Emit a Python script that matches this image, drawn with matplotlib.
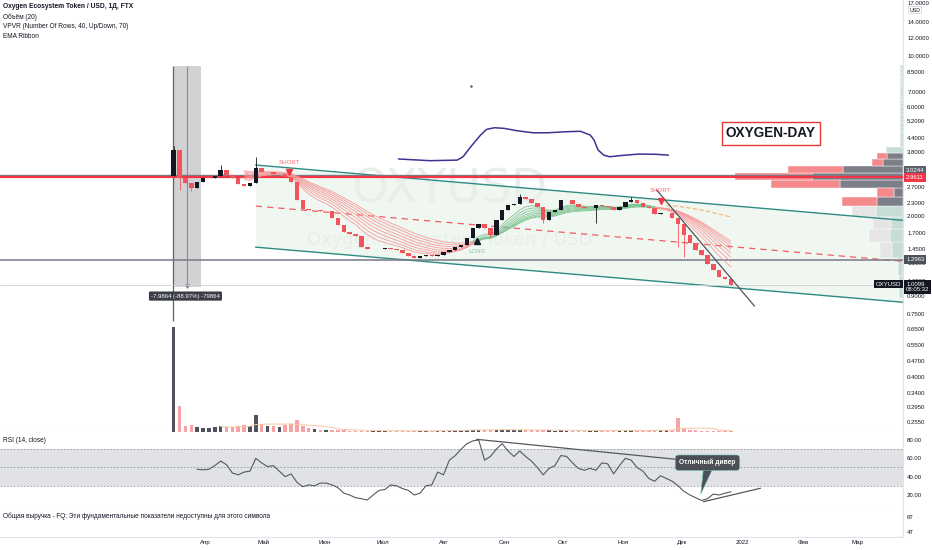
import numpy as np
import pandas as pd
import matplotlib
matplotlib.use("Agg")
import matplotlib.pyplot as plt
import matplotlib.dates as mdates
from matplotlib.collections import LineCollection
from matplotlib.patches import Polygon
from matplotlib.transforms import blended_transform_factory
from matplotlib.ticker import NullLocator, NullFormatter

plt.rcParams['font.family'] = ['Liberation Sans Narrow', 'Liberation Sans', 'DejaVu Sans']

# ---------------- data ----------------
first_day = "2021-03-16"          # candles are 3-day steps from here
first_open = 3.00
closes = [
    3.90, 2.95, 2.79, 2.66, 2.82, 2.94, 2.94, 3.00, 3.19, 3.03,
    2.94, 2.77, 2.71, 2.80, 3.25, 3.12, 3.12, 3.06, 3.06, 2.97,
    2.82, 2.36, 2.16, 2.13, 2.13, 2.11, 2.11, 1.97, 1.84, 1.71,
    1.68, 1.64, 1.47, 1.44, 1.44, 1.45, 1.46, 1.44, 1.43, 1.38,
    1.34, 1.32, 1.34, 1.36, 1.34, 1.36, 1.40, 1.43, 1.47, 1.50,
    1.61, 1.78, 1.86, 1.78, 1.66, 1.93, 2.13, 2.24, 2.27, 2.44,
    2.39, 2.29, 2.20, 1.93, 2.09, 2.13, 2.36, 2.36, 2.27, 2.20,
    2.18, 2.18, 2.24, 2.22, 2.20, 2.13, 2.20, 2.31, 2.36, 2.29,
    2.20, 2.18, 2.05, 2.07, 2.07, 1.97, 1.86, 1.66, 1.53, 1.43,
    1.36, 1.24, 1.17, 1.09, 1.07, 1.01,
]
wick_high = {0: 4.05, 8: 3.35, 14: 3.64, 21: 2.75, 59: 2.50, 78: 2.42}
wick_low = {1: 2.60, 3: 2.58, 54: 1.62, 63: 1.88, 72: 1.87, 86: 1.47, 87: 1.33}
volumes = [
    105, 26, 6, 7, 5, 4, 4, 5, 6, 5,
    5, 6, 7, 6, 17, 8, 6, 6, 5, 7,
    8, 12, 6, 4, 3, 2.5, 2.5, 2, 2, 2,
    1.5, 1.5, 1.5, 1.2, 1.2, 1.2, 1.2, 1.2, 1.2, 1.2,
    1.2, 1.2, 1.2, 1.2, 1.2, 1.5, 1.5, 1.5, 1.8, 2,
    2.2, 2.5, 2.5, 2, 2, 2.5, 2.5, 2, 2, 2,
    2, 1.8, 1.8, 2, 1.8, 1.5, 1.8, 1.5, 1.5, 1.5,
    1.5, 1.5, 1.5, 1.5, 1.5, 1.5, 1.5, 1.8, 1.8, 1.5,
    1.5, 1.5, 1.8, 1.8, 2, 2, 14, 3, 2, 2,
    1.5, 1.5, 1.5, 1.5, 1.2, 1.2,
]
rsi_values = [np.nan] * 4 + [
    48, 47.5, 48, 52, 57, 53,
    44, 42, 45, 46, 60, 55, 51, 52, 46, 40,
    43, 34, 29, 31, 30, 33, 33, 31, 28, 22,
    20, 17, 16, 14.5, 20, 25, 26, 31, 30, 27,
    25, 20, 22, 30, 31, 45, 42, 58, 63, 70,
    76, 79, 80, 58, 62, 70, 76, 68, 62, 68,
    62, 57, 50, 42, 49, 52, 63, 62, 55, 49,
    47, 49, 47, 55, 54, 43, 52, 60, 58, 50,
    46, 38, 35, 41, 38, 35, 30, 24, 20, 17,
    14, 16, 21, 20, 22, 23.5,
]

# VPVR: 40 rows, up / down volume per row
vp_low, vp_high = 0.88, 9.78
vp_up = [4, 5, 11, 13, 12, 27, 26, 9, 63, 91, 60, 20, 16, 17] + [3] * 23 + [0] * 3
vp_down = [0, 0, 12, 21, 18, 24, 35, 17, 69, 77, 55, 11, 10, 0] + [0] * 26
va_rows = range(6, 13)

# horizontal levels and channel
level_grey = [3.0244, 1.2963]
level_poc = 2.9611
last_price = 1.0099
channel_dates = ["2021-04-27", "2022-03-24"]
channel_upper = [3.35, 1.924]
channel_lower = [1.47, 0.846]
trend_dates = ["2021-11-18", "2022-01-07"]
trend_prices = [2.61, 0.815]

blue_dates = ["2021-07-09", "2021-07-25", "2021-08-08", "2021-08-11", "2021-08-15",
              "2021-08-20", "2021-08-23", "2021-08-27", "2021-09-01", "2021-09-08",
              "2021-09-16", "2021-09-23", "2021-10-03", "2021-10-10", "2021-10-12",
              "2021-10-15", "2021-10-17", "2021-10-19", "2021-10-22", "2021-10-25",
              "2021-10-30", "2021-11-09", "2021-11-18", "2021-11-24"]
blue_prices = [3.56, 3.50, 3.52, 3.64, 4.03, 4.53, 4.79, 4.87, 4.84, 4.72,
               4.63, 4.63, 4.68, 4.70, 4.63, 4.53, 4.31, 3.90, 3.70, 3.64,
               3.68, 3.74, 3.73, 3.70]

rsi_top_dates = ["2021-08-18", "2021-11-28"]
rsi_top_vals = [80.7, 58.9]
rsi_bot_dates = ["2021-12-12", "2022-01-10"]
rsi_bot_vals = [12.7, 27.3]

price_ticks = [17, 14, 12, 10, 8.5, 7, 6, 5.2, 4.4, 3.8, 2.7, 2.3, 2.0, 1.7, 1.45,
               1.25, 1.05, 0.9, 0.75, 0.65, 0.55, 0.47, 0.40, 0.34, 0.295, 0.255]
month_dates = ["2021-04-01", "2021-05-01", "2021-06-01", "2021-07-01", "2021-08-01",
               "2021-09-01", "2021-10-01", "2021-11-01", "2021-12-01", "2022-01-01",
               "2022-02-01", "2022-03-01"]
month_labels = ["Апр", "Май", "Июн", "Июл", "Авг", "Сен", "Окт", "Ноя", "Дек",
                "2022", "Фев", "Мар"]

# ---------------- layout ----------------
W, H = 932, 550
PLOT_R = 903
TXT = '#131722'
SEP = '#e0e3eb'
UP, DOWN = '#131722', '#f2545b'


def d(s):
    return mdates.date2num(pd.Timestamp(s))


def pane(y0, y1):
    a = fig.add_axes([0, 1 - y1 / H, PLOT_R / W, (y1 - y0) / H])
    for s in ('top', 'left'):
        a.spines[s].set_visible(False)
    for s in ('right', 'bottom'):
        a.spines[s].set_color(SEP)
        a.spines[s].set_linewidth(0.8)
    a.tick_params(axis='x', bottom=False, labelbottom=False)
    a.tick_params(axis='y', which='both', length=0, pad=3, labelsize=4.3,
                  labelcolor=TXT, left=False, labelleft=False,
                  right=True, labelright=True)
    a.set_xlim(d("2021-04-01") - 205 / 1.955, d("2021-04-01") + 698 / 1.955)
    return a


fig = plt.figure(figsize=(W / 100, H / 100), dpi=100)
fig.patch.set_facecolor('white')
ax = pane(0, 432)
ax_rsi = pane(432, 507)
ax_rev = pane(507, 537)

bx = blended_transform_factory(ax.transAxes, ax.transData)
by = blended_transform_factory(ax.transData, ax.transAxes)

xd = mdates.date2num(pd.date_range(first_day, periods=len(closes), freq="3D"))
opens = [first_open] + closes[:-1]
highs = [wick_high.get(i, max(o, c)) for i, (o, c) in enumerate(zip(opens, closes))]
lows = [wick_low.get(i, min(o, c)) for i, (o, c) in enumerate(zip(opens, closes))]
cols = [UP if c >= o else DOWN for o, c in zip(opens, closes)]

# ---------------- price pane ----------------
ax.set_yscale('log')

# channel
cx = [d(s) for s in channel_dates]
cmid = np.sqrt(np.array(channel_upper) * np.array(channel_lower))
ax.fill_between(cx, channel_lower, channel_upper, color='#f0f7f1', lw=0, zorder=0.5)
ax.plot(cx, channel_upper, color='#2e8b84', lw=1.0, zorder=2)
ax.plot(cx, channel_lower, color='#2e8b84', lw=1.0, zorder=2)
ax.plot(cx, cmid, color='#f25c60', lw=0.9, ls=(0, (5, 4)), zorder=2)

# watermark
ax.text(d("2021-08-04"), 2.61, "OXYUSD", fontsize=34, color='#e8eee9',
        ha='center', va='center', family='DejaVu Sans', zorder=0.8)
ax.text(d("2021-08-04"), 1.58, "Oxygen Ecosystem Token / USD", fontsize=13,
        color='#e8eee9', ha='center', va='center', family='DejaVu Sans', zorder=0.8)

# measurement tool
ax.fill_between([d("2021-03-16"), d("2021-03-30")], 0.986, 9.05, color='#d2d2d4',
                lw=0, zorder=1)
ax.vlines(d("2021-03-15 12:00"), 0.70, 9.05, color='#5d606b', lw=0.9, zorder=1.2)
ax.vlines(d("2021-03-23"), 0.99, 9.05, color='#8a8d96', lw=0.8, zorder=1.2)
ax.plot([d("2021-03-23")], [1.0], marker='v', ms=2.5, color='#8a8d96', zorder=1.2)
ax.text(d("2021-03-22"), 0.90, "-7.9864 (-88.97%) -79864", fontsize=4.3,
        color='white', ha='center', va='center', zorder=6,
        bbox=dict(boxstyle='round,pad=0.35,rounding_size=0.2', fc='#3b3e47', ec='none'))

# volume profile (VPVR)
edges = np.linspace(vp_low, vp_high, len(vp_up) + 1)
row_h = edges[1] - edges[0]
up_w = np.array(vp_up) / PLOT_R
dn_w = np.array(vp_down) / PLOT_R
up_c = ['#7c7f88' if k in va_rows else '#c8dcd6' for k in range(len(vp_up))]
dn_c = ['#f58a8c' if k in va_rows else '#e5e5e5' for k in range(len(vp_up))]
ax.barh(edges[:-1], up_w, height=row_h, left=1 - up_w, align='edge', color=up_c,
        edgecolor='white', linewidth=0.3, transform=bx, zorder=1.5)
ax.barh(edges[:-1], dn_w, height=row_h, left=1 - up_w - dn_w, align='edge', color=dn_c,
        edgecolor='white', linewidth=0.3, transform=bx, zorder=1.5)

# horizontal levels
ax.axhline(level_grey[0], color='#787b86', lw=1.0, zorder=2.2)
ax.axhline(level_poc, color='#f23645', lw=1.6, zorder=2.2)
ax.axhline(level_grey[1], color='#787b86', lw=1.1, zorder=2.2)
ax.axhline(last_price, color='#cfd1d6', lw=0.6, zorder=2.1)

# EMA ribbon
close_s = pd.Series(closes)
ema_lengths = [20, 25, 30, 35, 40, 45, 50, 55]
emas = [close_s.ewm(span=L / 3, adjust=False).mean().values for L in ema_lengths]
bull = emas[0] > emas[-1]
start = 12
for e in emas:
    pts = np.column_stack([xd[start:], e[start:]])
    segs = np.stack([pts[:-1], pts[1:]], axis=1)
    seg_cols = ['#7fc493' if bull[i + 1] else '#f59b9b' for i in range(start, len(closes) - 1)]
    ax.add_collection(LineCollection(segs, colors=seg_cols, linewidths=0.6, zorder=3))
ema_long = close_s.ewm(span=200 / 3, adjust=False).mean().values
ax.plot(xd[84:], ema_long[84:], color='#f7b06a', lw=0.8, ls=(0, (4, 2)), zorder=3)

# candles
ax.vlines(xd, lows, highs, colors=cols, lw=0.6, zorder=4)
ax.bar(xd, [max(abs(c - o), 0.006) for o, c in zip(opens, closes)],
       bottom=[min(o, c) for o, c in zip(opens, closes)], width=2.3,
       color=cols, lw=0, zorder=4)

# volume (bottom of the price pane)
vcols = ['#4f525b' if c == UP else '#f7a3a5' for c in cols]
ax.bar(xd, np.array(volumes) / 432, bottom=0, width=1.8, color=vcols, lw=0,
       transform=by, zorder=3.5)
vma = pd.Series(volumes).rolling(7, min_periods=1).mean().values
ax.plot(xd[8:], vma[8:] / 432, color='#f6c7a3', lw=0.7, transform=by, zorder=3.6)

# trend line after second SHORT
ax.plot([d(s) for s in trend_dates], trend_prices, color='#50535e', lw=0.9, zorder=4.5)

# signals
ax.plot([d("2021-05-14")], [3.11], marker='v', ms=4, color='#f23645', zorder=5)
ax.text(d("2021-05-14"), 3.45, "SHORT", fontsize=4.4, color='#f26d70', ha='center',
        va='center', zorder=5)
ax.plot([d("2021-11-20")], [2.34], marker='v', ms=4, color='#f23645', zorder=5)
ax.text(d("2021-11-20"), 2.59, "SHORT", fontsize=4.4, color='#f26d70', ha='center',
        va='center', zorder=5)
ax.plot([d("2021-08-18")], [1.57], marker='^', ms=4.5, color='#131722', zorder=5)
ax.text(d("2021-08-18"), 1.41, "LONG", fontsize=4.4, color='#86c795', ha='center',
        va='center', zorder=5)

# hand drawn curve and title box
ax.plot([d(s) for s in blue_dates], blue_prices, color='#3d3391', lw=1.1,
        solid_capstyle='round', zorder=5)
ax.plot([d("2021-08-15")], [7.40], marker='o', ms=0.8, color='#555555', zorder=5)
ax.text(d("2022-01-15 12:00"), 4.60, "OXYGEN-DAY", fontsize=9.8, fontweight='bold',
        color=TXT, ha='center', va='center', zorder=6,
        bbox=dict(boxstyle='square,pad=0.3', fc='white', ec='#e53935', lw=1.0))

ax.set_ylim(0.2302, 17.54)
ax.set_xlim(d("2021-04-01") - 205 / 1.955, d("2021-04-01") + 698 / 1.955)
ax.set_yticks(price_ticks, labels=['%.4f' % v for v in price_ticks])
ax.yaxis.set_minor_locator(NullLocator())
ax.yaxis.set_minor_formatter(NullFormatter())


def price_tag(value, text, fc, dy_px=0.0, fs=4.3):
    ax.annotate(text, xy=(1, value), xycoords=bx, xytext=(2.2, dy_px * 0.72),
                textcoords='offset points', fontsize=fs, color='white',
                ha='left', va='center', annotation_clip=False, zorder=7,
                bbox=dict(boxstyle='square,pad=0.3', fc=fc, ec='none'))


price_tag(level_grey[0], "3.0244", '#5d606b', dy_px=5)
price_tag(level_poc, "2.9611", '#f23645')
price_tag(level_grey[1], "1.2963", '#4c525e')
price_tag(last_price, "1.0099\n08:05:32", '#131722', dy_px=-2.5)
ax.annotate("OXYUSD", xy=(1, last_price), xycoords=bx, xytext=(-1.5, 0.3),
            textcoords='offset points', fontsize=4.3, color='white', ha='right',
            va='center', annotation_clip=False, zorder=7,
            bbox=dict(boxstyle='square,pad=0.3', fc='#131722', ec='none'))

# ---------------- RSI pane ----------------
ax_rsi.set_ylim(6.9, 88.7)
ax_rsi.axhspan(30, 70, color='#e0e2e6', lw=0, zorder=0.5)
for lvl in (70, 50, 30):
    ax_rsi.axhline(lvl, color='#9598a1', lw=0.6, ls=(0, (2, 2)), zorder=1)
ax_rsi.plot(xd, rsi_values, color='#555860', lw=0.8, zorder=2)
ax_rsi.plot([d(s) for s in rsi_top_dates], rsi_top_vals, color='#555860', lw=0.9, zorder=2)
ax_rsi.plot([d(s) for s in rsi_bot_dates], rsi_bot_vals, color='#555860', lw=0.9, zorder=2)
ax_rsi.add_patch(Polygon([(d("2021-12-12"), 50), (d("2021-12-17"), 50),
                          (d("2021-12-10 14:00"), 21)], closed=True,
                         fc='#4c4f58', ec='#6ec5c0', lw=0.4, zorder=3))
ax_rsi.text(d("2021-12-14"), 55.2, "Отличный дивер", fontsize=4.8, fontweight='bold',
            color='white', ha='center', va='center', zorder=4,
            bbox=dict(boxstyle='round,pad=0.6,rounding_size=0.5', fc='#4c4f58',
                      ec='#6ec5c0', lw=0.4))
ax_rsi.set_yticks([20, 40, 60, 80], labels=['20.00', '40.00', '60.00', '80.00'])

# ---------------- revenue pane ----------------
ax_rev.set_ylim(3.33, 7.33)
ax_rev.set_yticks([4, 6], labels=['4T', '6T'])
ax_rev.set_xticks([d(s) for s in month_dates], labels=month_labels)
ax_rev.tick_params(axis='x', bottom=True, length=0, labelbottom=True, pad=2.5,
                   labelsize=4.4, labelcolor=TXT)

# ---------------- legends ----------------
fig.text(3 / W, 1 - 7 / H, "Oxygen Ecosystem Token / USD, 1Д, FTX", fontsize=4.8,
         fontweight='bold', color=TXT, va='center')
fig.text(3 / W, 1 - 17 / H, "Объём (20)", fontsize=4.7, color=TXT, va='center')
fig.text(3 / W, 1 - 27 / H, "VPVR (Number Of Rows, 40, Up/Down, 70)", fontsize=4.7,
         color=TXT, va='center')
fig.text(3 / W, 1 - 37 / H, "EMA Ribbon", fontsize=4.7, color=TXT, va='center')
fig.text(3 / W, 1 - 440 / H, "RSI (14, close)", fontsize=4.7, color=TXT, va='center')
fig.text(3 / W, 1 - 516 / H,
         "Общая выручка - FQ: Эти фундаментальные показатели недоступны для этого символа",
         fontsize=4.7, color=TXT, va='center')
fig.text(915 / W, 1 - 10 / H, "USD", fontsize=3.8, color=TXT, ha='center', va='center',
         bbox=dict(boxstyle='round,pad=0.2,rounding_size=0.3', fc='white', ec='#c9ccd3',
                   lw=0.5))

fig.savefig("out.png", dpi=100, facecolor='white')
